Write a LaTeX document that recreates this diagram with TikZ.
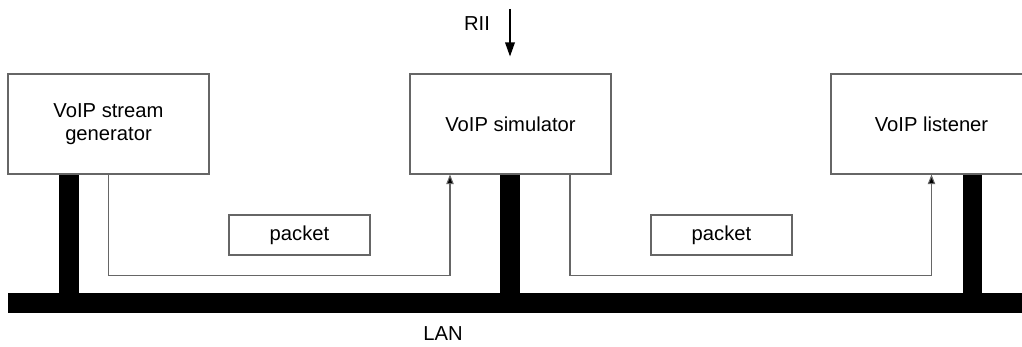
\documentclass[tikz,border=0pt]{standalone}
\usepackage{fontspec}
\setmainfont{Liberation Sans}
\usetikzlibrary{arrows.meta,calc}

\begin{document}
\begin{tikzpicture}[x=0.02cm,y=-0.02cm,
    box/.style={draw=black!60, line width=0.6pt, inner sep=0pt, align=center,
                minimum width=201*0.02cm, minimum height=100*0.02cm,
                font=\fontsize{11.5}{13.3}\selectfont},
    pkt/.style={draw=black!60, line width=0.6pt, inner sep=0pt,
                minimum width=141*0.02cm, minimum height=40*0.02cm,
                font=\fontsize{11.5}{13.5}\selectfont},
    flow/.style={draw=black!60, line width=0.6pt, -{Triangle[length=5.5pt,width=4.2pt,fill=black]}},
    lbl/.style={font=\fontsize{11.5}{13.5}\selectfont}]
\useasboundingbox (0,0) rectangle (1022,347);

%---------------------------------------------------------------------------------------- LAN
\fill[black] (8,293) rectangle (1030,313);
\fill[black] (59,174) rectangle (79,293);     %------------------------------------------- stubs
\fill[black] (500,174) rectangle (520,293);
\fill[black] (963,174) rectangle (982,293);
\node[lbl] (lan) at (443,334) {LAN};

%---------------------------------------------------------------------------------------- BOXES
\node[box] (gen) at (108.5,124) {VoIP stream\\generator};
\node[box] (sim) at (510.5,124) {VoIP simulator};
\node[box] (lis) at (931.5,124) {VoIP listener};

\node[pkt] (pktA) at (299.5,235) {packet};
\node[pkt] (pktB) at (721.5,235) {packet};

%---------------------------------------------------------------------------------------- FLOWS
\draw[flow] (gen.south) |- ($(sim.south)+(-60.5,101)$) -- ($(sim.south)+(-60.5,0)$);
\draw[flow] ($(sim.south)+(59.5,0)$) |- ($(lis.south)+(0,101)$) -- (lis.south);

%---------------------------------------------------------------------------------------- RII
\coordinate (riiTop) at (510,9);
\draw[line width=0.8pt, -{Triangle[length=8pt,width=5.5pt]}] (riiTop) -- ($(sim.north)+(-0.5,-17)$);
\node[lbl] (rii) at (477,24) {RII};

\end{tikzpicture}
\end{document}
